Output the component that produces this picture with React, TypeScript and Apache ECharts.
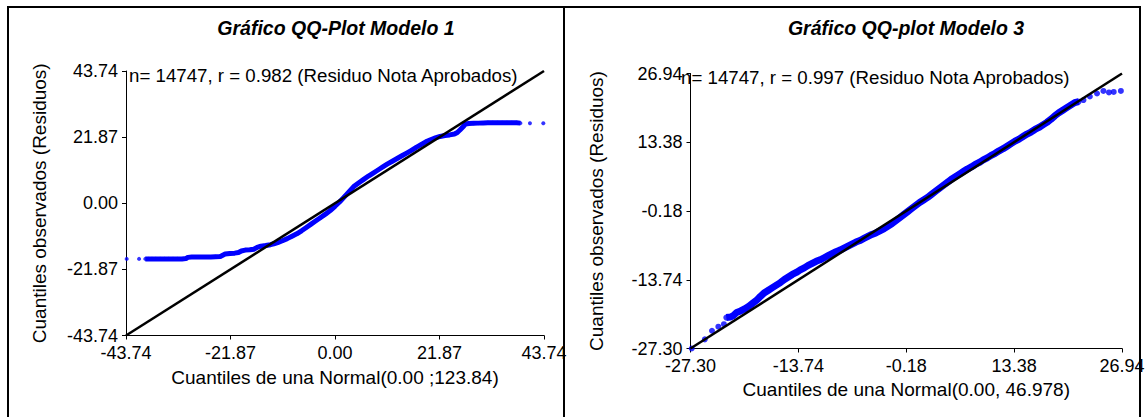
import React, { useEffect, useRef } from "react";
import * as echarts from "echarts";

const FONT = "'Liberation Sans', Arial, Helvetica, sans-serif";
const DOT = "#0000ff";

// Modelo 1: theoretical (normal) quantiles vs observed residual quantiles
const m1Theoretical = [
  -43.6, -41.0, -39.7, -39.0, -38.3, -37.5, -36.6, -35.7, -34.8, -33.9, -33.0, -32.0,
  -31.2, -30.8, -30.0, -29.0, -28.0, -27.0, -26.0, -25.0, -24.0, -23.5, -23.0, -22.0,
  -21.0, -20.2, -19.6, -18.8, -17.8, -17.0, -16.3, -15.5, -14.5, -13.5, -12.8, -12.0,
  -11.0, -10.0, -9.0, -8.0, -7.0, -6.0, -5.0, -4.0, -3.0, -2.0, -1.0, 0.0, 1.0, 2.0,
  3.0, 4.0, 5.0, 6.0, 7.0, 8.0, 9.0, 10.0, 11.0, 12.0, 13.0, 14.0, 15.0, 16.0, 17.0,
  18.0, 19.0, 20.0, 21.0, 22.0, 23.0, 24.0, 25.0, 25.6, 26.2, 26.8, 27.3, 28.0, 29.0,
  30.0, 31.0, 32.0, 33.0, 34.0, 35.0, 36.0, 37.0, 38.0, 38.8, 40.8, 43.6,
];
const m1Observed = [
  -18.4, -18.4, -18.4, -18.4, -18.4, -18.4, -18.4, -18.4, -18.4, -18.4, -18.4, -18.4,
  -18.3, -17.9, -17.8, -17.8, -17.8, -17.8, -17.8, -17.7, -17.6, -17.2, -16.8, -16.6,
  -16.5, -16.3, -15.8, -15.5, -15.4, -15.2, -14.6, -14.2, -14.0, -13.7, -13.4, -13.0,
  -12.4, -11.7, -10.9, -10.1, -9.1, -8.0, -6.9, -5.8, -4.7, -3.6, -2.4, -1.0, 0.5, 2.2,
  3.9, 5.6, 6.8, 7.9, 9.0, 10.0, 11.0, 12.0, 13.0, 13.9, 14.8, 15.7, 16.6, 17.5, 18.5,
  19.4, 20.3, 21.0, 21.6, 22.1, 22.4, 22.6, 22.9, 23.4, 24.3, 25.3, 26.2, 26.4, 26.45,
  26.5, 26.55, 26.6, 26.6, 26.6, 26.6, 26.6, 26.6, 26.6, 26.5, 26.45, 26.45,
];

// Modelo 3
const m3Theoretical = [
  -27.15, -25.5, -24.6, -23.8, -23.1, -22.8, -22.3, -21.9, -21.5, -21.0, -20.5, -20.0,
  -19.5, -19.0, -18.5, -18.0, -17.5, -17.0, -16.5, -16.0, -15.5, -15.0, -14.5, -14.0,
  -13.5, -13.0, -12.5, -12.0, -11.5, -11.0, -10.5, -10.0, -9.5, -9.0, -8.5, -8.0, -7.5,
  -7.0, -6.5, -6.0, -5.5, -5.0, -4.5, -4.0, -3.5, -3.0, -2.5, -2.0, -1.5, -1.0, -0.5,
  0.0, 0.5, 1.0, 1.5, 2.0, 2.5, 3.0, 3.5, 4.0, 4.5, 5.0, 5.5, 6.0, 6.5, 7.0, 7.5, 8.0,
  8.5, 9.0, 9.5, 10.0, 10.5, 11.0, 11.5, 12.0, 12.5, 13.0, 13.5, 14.0, 14.5, 15.0, 15.5,
  16.0, 16.5, 17.0, 17.5, 18.0, 18.5, 19.0, 19.5, 20.0, 20.5, 21.0, 21.5, 22.1, 22.9,
  23.8, 24.6, 25.3, 25.9, 26.8,
];
const m3Observed = [
  -27.3, -25.5, -23.8, -23.0, -22.5, -21.2, -21.1, -20.8, -20.2, -19.9, -19.5, -19.0,
  -18.4, -17.8, -17.0, -16.3, -15.8, -15.3, -14.8, -14.3, -13.7, -13.2, -12.7, -12.3,
  -11.8, -11.4, -10.9, -10.5, -10.1, -9.8, -9.4, -9.0, -8.6, -8.2, -7.9, -7.5, -7.1,
  -6.7, -6.3, -6.0, -5.6, -5.2, -4.8, -4.5, -4.1, -3.7, -3.2, -2.7, -2.1, -1.5, -0.9,
  -0.3, 0.3, 0.9, 1.5, 2.0, 2.5, 3.1, 3.7, 4.3, 4.9, 5.5, 6.1, 6.6, 7.1, 7.6, 8.1, 8.5,
  9.0, 9.4, 9.9, 10.3, 10.8, 11.2, 11.7, 12.1, 12.6, 13.1, 13.6, 14.0, 14.5, 15.0, 15.4,
  15.9, 16.3, 16.8, 17.3, 17.9, 18.6, 19.2, 19.7, 20.2, 20.7, 21.2, 21.4, 21.7, 22.4,
  23.0, 23.5, 23.2, 23.3, 23.5,
];

const m1Ticks = [-43.74, -21.87, 0.0, 21.87, 43.74];
const m3Ticks = [-27.3, -13.74, -0.18, 13.38, 26.94];

const titles = ["Gráfico QQ-Plot Modelo 1", "Gráfico QQ-plot Modelo 3"];
const notes = [
  "n= 14747, r = 0.982 (Residuo Nota Aprobados)",
  "n= 14747, r = 0.997 (Residuo Nota Aprobados)",
];
const xNames = ["Cuantiles de una Normal(0.00 ;123.84)", "Cuantiles de una Normal(0.00, 46.978)"];
const yName = "Cuantiles observados (Residuos)";

// sparse tail points that are drawn only as dots (not part of the dense band)
const m1Band = [2, m1Theoretical.length - 2];
const m3Band = [5, m3Theoretical.length - 7];

const zip = (xs: number[], ys: number[]) => xs.map((x, i) => [x, ys[i]]);

function makeAxis(ticks: number[], name: string, gap: number) {
  return {
    type: "value",
    min: ticks[0],
    max: ticks[ticks.length - 1],
    splitLine: { show: false },
    axisLine: { show: true, onZero: false, lineStyle: { color: "#000", width: 1 } },
    axisTick: { show: true, length: 4, customValues: ticks, lineStyle: { color: "#000" } },
    axisLabel: {
      customValues: ticks,
      formatter: (v: number) => v.toFixed(2),
      color: "#000",
      fontSize: 18,
      fontFamily: FONT,
      margin: 8,
    },
    name,
    nameLocation: "middle",
    nameGap: gap,
    nameTextStyle: { color: "#000", fontSize: 19, fontFamily: FONT },
  };
}

function qqSeries(xs: number[], ys: number[], band: number[], ticks: number[], idx: number, dot: number, bandW: number) {
  const pts = zip(xs, ys);
  const lo = ticks[0];
  const hi = ticks[ticks.length - 1];
  return [
    {
      type: "line",
      xAxisIndex: idx,
      yAxisIndex: idx,
      data: pts.slice(band[0], band[1]),
      showSymbol: false,
      symbol: "none",
      lineStyle: { color: DOT, width: bandW },
      z: 2,
      silent: true,
    },
    {
      type: "scatter",
      xAxisIndex: idx,
      yAxisIndex: idx,
      data: pts,
      symbolSize: dot,
      itemStyle: { color: DOT },
      z: 3,
      silent: true,
    },
    {
      type: "line",
      xAxisIndex: idx,
      yAxisIndex: idx,
      data: [
        [lo, lo],
        [hi, hi],
      ],
      showSymbol: false,
      symbol: "none",
      lineStyle: { color: "#000", width: 2.5 },
      z: 4,
      silent: true,
    },
  ];
}

export default function App() {
  const ref = useRef<HTMLDivElement>(null);

  useEffect(() => {
    document.body.style.margin = "0";
    const chart = echarts.init(ref.current!, null, { renderer: "svg" });
    chart.setOption({
      animation: false,
      backgroundColor: "#fff",
      grid: [
        { left: 126, top: 71, width: 418, height: 264.5, containLabel: false, outerBoundsMode: "none" },
        { left: 690.5, top: 73.5, width: 431.5, height: 275, containLabel: false, outerBoundsMode: "none" },
      ],
      xAxis: [
        { ...makeAxis(m1Ticks, xNames[0], 32), gridIndex: 0 },
        { ...makeAxis(m3Ticks, xNames[1], 31), gridIndex: 1 },
      ],
      yAxis: [
        { ...makeAxis(m1Ticks, yName, 77), gridIndex: 0 },
        { ...makeAxis(m3Ticks, yName, 85), gridIndex: 1 },
      ],
      series: [
        ...qqSeries(m1Theoretical, m1Observed, m1Band, m1Ticks, 0, 4, 5),
        ...qqSeries(m3Theoretical, m3Observed, m3Band, m3Ticks, 1, 6, 7),
      ],
      graphic: [
        {
          type: "rect",
          shape: { x: 8, y: 7, width: 556, height: 420 },
          style: { fill: "none", stroke: "#000", lineWidth: 2 },
          silent: true,
        },
        {
          type: "rect",
          shape: { x: 564, y: 7, width: 576, height: 420 },
          style: { fill: "none", stroke: "#000", lineWidth: 2 },
          silent: true,
        },
        {
          type: "text",
          x: 336,
          y: 28,
          style: {
            text: titles[0],
            font: `italic bold 19.5px ${FONT}`,
            fill: "#000",
            align: "center",
            verticalAlign: "middle",
          },
        },
        {
          type: "text",
          x: 906,
          y: 28,
          style: {
            text: titles[1],
            font: `italic bold 19.5px ${FONT}`,
            fill: "#000",
            align: "center",
            verticalAlign: "middle",
          },
        },
        {
          type: "text",
          x: 129,
          y: 75,
          z: 10,
          style: { text: notes[0], font: `18.7px ${FONT}`, fill: "#000", align: "left", verticalAlign: "middle" },
        },
        {
          type: "text",
          x: 681,
          y: 77,
          z: 10,
          style: { text: notes[1], font: `18.7px ${FONT}`, fill: "#000", align: "left", verticalAlign: "middle" },
        },
      ],
    });
    return () => chart.dispose();
  }, []);

  return <div ref={ref} style={{ width: 1146, height: 417 }} />;
}
